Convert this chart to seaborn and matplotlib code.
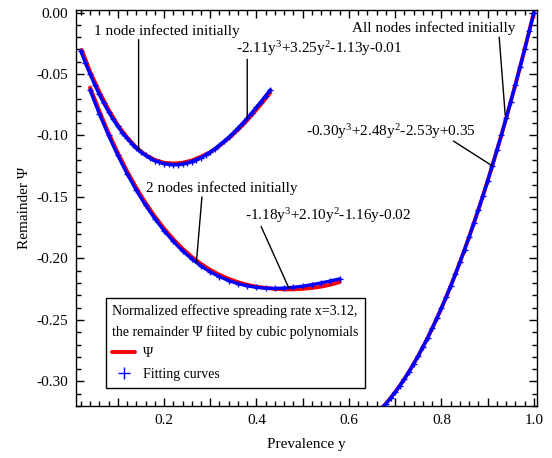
import matplotlib
matplotlib.use('Agg')
import matplotlib.pyplot as plt
from matplotlib.lines import Line2D
from matplotlib.ticker import MultipleLocator, FuncFormatter
import seaborn as sns

# Style
sns.set_theme(style="ticks")
plt.rcParams['font.family'] = ['Liberation Serif', 'DejaVu Serif']
plt.rcParams['mathtext.default'] = 'regular'
plt.rcParams['axes.unicode_minus'] = False
plt.rcParams['text.color'] = 'black'
plt.rcParams['axes.labelcolor'] = 'black'

# --- data ---
# 1 node infected initially
fit1_y = [0.02, 0.03, 0.04, 0.05, 0.06, 0.07, 0.08, 0.09, 0.10, 0.11, 0.12, 0.13, 0.14, 0.15,
          0.16, 0.17, 0.18, 0.19, 0.20, 0.21, 0.22, 0.23, 0.24, 0.25, 0.26, 0.27, 0.28, 0.29,
          0.30, 0.31, 0.32, 0.33, 0.34, 0.35, 0.36, 0.37, 0.38, 0.39, 0.40, 0.41, 0.42, 0.43]
fit1_psi = [-0.0313, -0.0410, -0.0501, -0.0586, -0.0666, -0.0739, -0.0807, -0.0869, -0.0926,
            -0.0978, -0.1024, -0.1066, -0.1103, -0.1135, -0.1162, -0.1185, -0.1204, -0.1218,
            -0.1229, -0.1235, -0.1238, -0.1236, -0.1232, -0.1224, -0.1212, -0.1197, -0.1179,
            -0.1158, -0.1135, -0.1108, -0.1079, -0.1048, -0.1014, -0.0979, -0.0940, -0.0901,
            -0.0859, -0.0815, -0.0770, -0.0724, -0.0676, -0.0628]
psi1_y = [0.022, 0.04, 0.06, 0.08, 0.10, 0.12, 0.14, 0.16, 0.18, 0.20, 0.22, 0.24, 0.26,
          0.28, 0.30, 0.32, 0.34, 0.36, 0.38, 0.40, 0.42, 0.43]
psi1 = [-0.0305, -0.0480, -0.0645, -0.0790, -0.0915, -0.1015, -0.1098, -0.1158, -0.1198,
        -0.1222, -0.1228, -0.1222, -0.1203, -0.1172, -0.1135, -0.1083, -0.1022, -0.0953,
        -0.0876, -0.0790, -0.0698, -0.0650]

# 2 nodes infected initially
fit2_y = [0.04, 0.06, 0.08, 0.10, 0.12, 0.14, 0.16, 0.18, 0.20, 0.22, 0.24, 0.26, 0.28, 0.30,
          0.32, 0.34, 0.36, 0.38, 0.40, 0.42, 0.44, 0.46, 0.48, 0.50, 0.52, 0.54, 0.56, 0.58]
fit2_psi = [-0.0631, -0.0823, -0.1000, -0.1162, -0.1310, -0.1445, -0.1567, -0.1676, -0.1774,
            -0.1861, -0.1938, -0.2004, -0.2061, -0.2109, -0.2148, -0.2180, -0.2205, -0.2223,
            -0.2235, -0.2242, -0.2244, -0.2241, -0.2235, -0.2225, -0.2213, -0.2199, -0.2183,
            -0.2166]
psi2_y = fit2_y
psi2 = [-0.0610, -0.0800, -0.0980, -0.1140, -0.1290, -0.1425, -0.1548, -0.1658, -0.1756,
        -0.1843, -0.1920, -0.1987, -0.2044, -0.2093, -0.2133, -0.2166, -0.2193, -0.2214,
        -0.2229, -0.2240, -0.2247, -0.2251, -0.2251, -0.2247, -0.2240, -0.2229, -0.2213,
        -0.2192]

# all nodes infected initially
fit3_y = [0.665, 0.67, 0.68, 0.69, 0.70, 0.71, 0.72, 0.73, 0.74, 0.75, 0.76, 0.77, 0.78,
          0.79, 0.80, 0.81, 0.82, 0.83, 0.84, 0.85, 0.86, 0.87, 0.88, 0.89, 0.90, 0.91, 0.92,
          0.93, 0.94, 0.95, 0.96, 0.97, 0.98, 0.99, 1.00]
fit3_psi = [-0.3240, -0.3221, -0.3180, -0.3135, -0.3087, -0.3035, -0.2979, -0.2920, -0.2857,
            -0.2791, -0.2720, -0.2647, -0.2569, -0.2488, -0.2404, -0.2316, -0.2225, -0.2130,
            -0.2031, -0.1929, -0.1824, -0.1715, -0.1603, -0.1488, -0.1369, -0.1247, -0.1121,
            -0.0993, -0.0860, -0.0725, -0.0587, -0.0445, -0.0300, -0.0151, 0.0000]
psi3_y = fit3_y
psi3 = fit3_psi

fig, ax = plt.subplots(figsize=(5.52, 4.58), dpi=100)
fig.subplots_adjust(left=0.138, right=0.973, top=0.978, bottom=0.1135)

for xs, ys in [(psi1_y, psi1), (psi2_y, psi2), (psi3_y, psi3)]:
    sns.lineplot(x=xs, y=ys, ax=ax, color='red', linewidth=2.8, sort=False,
                 estimator=None, zorder=2)
for xs, ys in [(fit1_y, fit1_psi), (fit2_y, fit2_psi), (fit3_y, fit3_psi)]:
    sns.lineplot(x=xs, y=ys, ax=ax, color='blue', linewidth=2.4, sort=False,
                 estimator=None, marker='+', markersize=4.5, markeredgewidth=1.0,
                 markeredgecolor='blue', zorder=3)

ax.set_xlim(0.01, 1.007)
ax.set_ylim(-0.32, 0.002)

# ticks
ax.xaxis.set_major_locator(MultipleLocator(0.1))
ax.xaxis.set_minor_locator(MultipleLocator(0.02))
ax.xaxis.set_major_formatter(FuncFormatter(
    lambda v, p: f'{v:.1f}' if round(v * 10) % 2 == 0 and v > 0.05 else ''))
ax.yaxis.set_major_locator(MultipleLocator(0.05))
ax.yaxis.set_minor_locator(MultipleLocator(0.01))
ax.yaxis.set_major_formatter(FuncFormatter(lambda v, p: f'{v:.2f}'))
ax.tick_params(which='both', direction='in', top=True, right=True, colors='black',
               labelsize=11, width=1)
ax.tick_params(which='major', length=6, pad=6)
ax.tick_params(which='minor', length=3.5)
for s in ax.spines.values():
    s.set_color('black')
    s.set_linewidth(1)

ax.set_xlabel('Prevalence y', fontsize=11, labelpad=8)
ax.set_ylabel('Remainder Ψ', fontsize=11, labelpad=4)

# annotations
fs = 11
line_kw = dict(arrowstyle='-', color='black', lw=1, shrinkA=0, shrinkB=0)
ax.text(0.205, -0.0155, '1 node infected initially', fontsize=fs, ha='center', va='center')
ax.annotate('', xy=(0.145, -0.1115), xytext=(0.145, -0.022), arrowprops=line_kw)

ax.text(0.355, -0.0295, '-2.11y$^3$+3.25y$^2$-1.13y-0.01', fontsize=fs, ha='left', va='center')
ax.annotate('', xy=(0.38, -0.0862), xytext=(0.38, -0.038), arrowprops=line_kw)

ax.text(0.325, -0.1425, '2 nodes infected initially', fontsize=fs, ha='center', va='center')
ax.annotate('', xy=(0.27, -0.2033), xytext=(0.282, -0.150), arrowprops=line_kw)

ax.text(0.375, -0.1655, '-1.18y$^3$+2.10y$^2$-1.16y-0.02', fontsize=fs, ha='left', va='center')
ax.annotate('', xy=(0.47, -0.2240), xytext=(0.41, -0.174), arrowprops=line_kw)

ax.text(0.96, -0.0125, 'All nodes infected initially', fontsize=fs, ha='right', va='center')
ax.annotate('', xy=(0.938, -0.0833), xytext=(0.925, -0.020), arrowprops=line_kw)

ax.text(0.875, -0.097, '-0.30y$^3$+2.48y$^2$-2.53y+0.35', fontsize=fs, ha='right', va='center')
ax.annotate('', xy=(0.91, -0.1247), xytext=(0.826, -0.1045), arrowprops=line_kw)

# legend
lfs = 10
handles = [Line2D([0], [0], color='red', lw=2.8, label='Ψ'),
           Line2D([0], [0], color='blue', lw=0, marker='+', markersize=8,
                  markeredgewidth=1.0, label='Fitting curves')]
leg = ax.legend(handles=handles,
                title='Normalized effective spreading rate x=3.12,\n'
                      'the remainder Ψ fiited by cubic polynomials',
                loc='upper left', bbox_to_anchor=(0.075, -0.232),
                bbox_transform=ax.transData, fontsize=lfs, title_fontsize=lfs,
                alignment='left', fancybox=False, framealpha=1, edgecolor='black',
                handlelength=1.6, handletextpad=0.6, labelspacing=0.6,
                borderpad=0.45, borderaxespad=0)
leg.get_frame().set_linewidth(1)
leg.get_title().set_linespacing(1.65)

plt.savefig('out.png', dpi=100)
plt.close()
